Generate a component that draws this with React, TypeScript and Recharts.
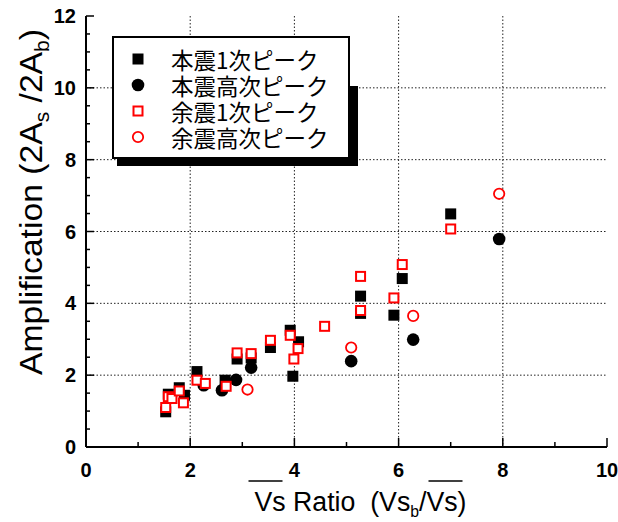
import { ScatterChart, Scatter, XAxis, YAxis, CartesianGrid, Legend } from 'recharts';

// 本震1次ピーク (black filled squares)
const mainFirstX = [1.53, 1.58, 1.79, 1.89, 2.13, 2.67, 2.9, 3.17, 3.54, 3.92, 4.08, 3.97, 5.27, 5.27, 5.91, 6.07, 7.0];
const mainFirstY = [0.98, 1.47, 1.65, 1.44, 2.1, 1.86, 2.45, 2.48, 2.77, 3.25, 2.93, 1.97, 4.2, 3.72, 3.67, 4.69, 6.49];

// 本震高次ピーク (black filled circles)
const mainHighX = [2.26, 2.61, 2.88, 3.17, 5.09, 6.28, 7.93];
const mainHighY = [1.72, 1.58, 1.87, 2.21, 2.39, 2.99, 5.79];

// 余震1次ピーク (red open squares)
const afterFirstX = [1.53, 1.58, 1.65, 1.79, 1.87, 2.13, 2.29, 2.69, 2.9, 3.17, 3.54, 3.92, 4.07, 3.99, 4.58, 5.27, 5.27, 5.91, 6.07, 7.0];
const afterFirstY = [1.1, 1.4, 1.35, 1.56, 1.23, 1.86, 1.77, 1.69, 2.62, 2.6, 2.97, 3.11, 2.74, 2.45, 3.36, 4.75, 3.8, 4.15, 5.08, 6.07];

// 余震高次ピーク (red open circles)
const afterHighX = [3.1, 5.09, 6.28, 7.93];
const afterHighY = [1.6, 2.77, 3.65, 7.05];

const xTicks = [0, 1, 2, 3, 4, 5, 6, 7, 8, 9, 10];
const xMajor = [0, 2, 4, 6, 8, 10];
const yTicks = [0, 0.5, 1, 1.5, 2, 2.5, 3, 3.5, 4, 4.5, 5, 5.5, 6, 6.5, 7, 7.5, 8, 8.5, 9, 9.5, 10, 10.5, 11, 11.5, 12];
const yMajor = [0, 2, 4, 6, 8, 10, 12];

const FONT = '"Liberation Sans", Arial, sans-serif';
const CJK = '"Noto Sans CJK JP", "Noto Sans CJK SC", sans-serif';
const RED = '#ff0000';

const zip = (xs: number[], ys: number[]) => xs.map((x, i) => ({ x, y: ys[i] }));

const FilledSquare = (p: any) => <rect x={p.cx - 5.5} y={p.cy - 5.5} width={11} height={11} fill="#000" />;
const FilledCircle = (p: any) => <circle cx={p.cx} cy={p.cy} r={6.3} fill="#000" />;
const OpenSquare = (p: any) => (
  <rect x={p.cx - 4.5} y={p.cy - 4.5} width={9} height={9} fill="#fff" stroke={RED} strokeWidth={2} />
);
const OpenCircle = (p: any) => <circle cx={p.cx} cy={p.cy} r={5.2} fill="#fff" stroke={RED} strokeWidth={1.8} />;

const series = [
  { name: '本震1次ピーク', data: zip(mainFirstX, mainFirstY), shape: FilledSquare },
  { name: '本震高次ピーク', data: zip(mainHighX, mainHighY), shape: FilledCircle },
  { name: '余震1次ピーク', data: zip(afterFirstX, afterFirstY), shape: OpenSquare },
  { name: '余震高次ピーク', data: zip(afterHighX, afterHighY), shape: OpenCircle },
];

function BottomTick(props: any) {
  const { x, y, payload } = props;
  const major = xMajor.includes(payload.value);
  return (
    <g>
      <line x1={x} y1={y} x2={x} y2={y - (major ? 9 : 5)} stroke="#000" strokeWidth={1.5} />
      {major && (
        <text x={x} y={y + 23} textAnchor="middle" dominantBaseline="central" fontFamily={FONT} fontWeight="bold" fontSize={20} fill="#000">
          {payload.value}
        </text>
      )}
    </g>
  );
}

function TopTick(props: any) {
  const { x, y, payload } = props;
  const major = xMajor.includes(payload.value);
  return <line x1={x} y1={y} x2={x} y2={y + (major ? 9 : 5)} stroke="#000" strokeWidth={1.5} />;
}

function LeftTick(props: any) {
  const { x, y, payload } = props;
  const major = yMajor.includes(payload.value);
  return (
    <g>
      <line x1={x} y1={y} x2={x + (major ? 8 : 4)} y2={y} stroke="#000" strokeWidth={1.5} />
      {major && (
        <text x={x - 10} y={y} textAnchor="end" dominantBaseline="central" fontFamily={FONT} fontWeight="bold" fontSize={20} fill="#000">
          {payload.value}
        </text>
      )}
    </g>
  );
}

function RightTick(props: any) {
  const { x, y, payload } = props;
  const major = yMajor.includes(payload.value);
  return <line x1={x} y1={y} x2={x - (major ? 8 : 4)} y2={y} stroke="#000" strokeWidth={1.5} />;
}

function XTitle(props: any) {
  const vb = props.viewBox;
  const cx = vb.x + vb.width / 2 + 14;
  const base = vb.y + 64;
  return (
    <g>
      <text x={cx} y={base} textAnchor="middle" fontFamily={FONT} fontSize={27} fill="#000" textLength={212} lengthAdjust="spacingAndGlyphs" style={{ whiteSpace: 'pre' }}>
        <tspan>{'Vs Ratio  (Vs'}</tspan>
        <tspan fontSize={16} dy={6}>b</tspan>
        <tspan dy={-6}>{'/Vs)'}</tspan>
      </text>
      <line x1={cx - 112} x2={cx - 78} y1={base - 30} y2={base - 30} stroke="#000" strokeWidth={1.5} />
      <line x1={cx + 68} x2={cx + 102} y1={base - 30} y2={base - 30} stroke="#000" strokeWidth={1.5} />
    </g>
  );
}

function YTitle(props: any) {
  const vb = props.viewBox;
  const bx = vb.x + 16;
  const cy = 202;
  return (
    <text x={bx} y={cy} textAnchor="middle" transform={`rotate(-90, ${bx}, ${cy})`} fontFamily={FONT} fontSize={32} fill="#000" textLength={346} lengthAdjust="spacingAndGlyphs" style={{ whiteSpace: 'pre' }}>
      <tspan>{'Amplification (2A'}</tspan>
      <tspan fontSize={20} dy={7}>s</tspan>
      <tspan dy={-7}>{' /2A'}</tspan>
      <tspan fontSize={20} dy={7}>b</tspan>
      <tspan dy={-7}>)</tspan>
    </text>
  );
}

function LegendMarker({ index }: { index: number }) {
  if (index === 0) return <rect x={2.5} y={2.5} width={11} height={11} fill="#000" />;
  if (index === 1) return <circle cx={8} cy={8} r={6.3} fill="#000" />;
  if (index === 2) return <rect x={3.5} y={3.5} width={9} height={9} fill="#fff" stroke={RED} strokeWidth={2} />;
  return <circle cx={8} cy={8} r={5.2} fill="#fff" stroke={RED} strokeWidth={1.8} />;
}

function LegendBox() {
  return (
    <div style={{ position: 'relative', width: 246, height: 131 }}>
      <div style={{ position: 'absolute', left: 238, top: 50, width: 8, height: 80, background: '#000' }} />
      <div style={{ position: 'absolute', left: 5, top: 123, width: 241, height: 7, background: '#000' }} />
      <div
        style={{
          position: 'absolute',
          left: 0,
          top: 0,
          width: 238,
          height: 123,
          boxSizing: 'border-box',
          border: '2px solid #000',
          background: '#fff',
        }}
      >
        {series.map((s, i) => (
          <div key={s.name} style={{ position: 'absolute', left: 0, top: 8 + i * 26, height: 26, width: 236 }}>
            <svg width={16} height={16} style={{ position: 'absolute', left: 16, top: 5 }}>
              <LegendMarker index={i} />
            </svg>
            <span
              style={{
                position: 'absolute',
                left: 57,
                top: 0,
                lineHeight: '26px',
                fontFamily: CJK,
                fontSize: 22.5,
                color: '#000',
                whiteSpace: 'nowrap',
              }}
            >
              {s.name}
            </span>
          </div>
        ))}
      </div>
    </div>
  );
}

export default function App() {
  return (
    <div style={{ position: 'absolute', left: 0, top: 0, width: 618, height: 522, background: '#fff' }}>
      <ScatterChart width={618} height={522} margin={{ top: 16, right: 11, left: 26, bottom: 0 }}>
        <CartesianGrid
          stroke="#222"
          strokeDasharray="1.5 2"
          horizontalValues={[2, 4, 6, 8, 10]}
          verticalValues={[2, 4, 6, 8]}
        />
        <XAxis
          dataKey="x"
          type="number"
          domain={[0, 10]}
          ticks={xTicks}
          allowDataOverflow
          height={75}
          tickSize={0}
          tickMargin={0}
          tickLine={false}
          axisLine={{ stroke: '#000', strokeWidth: 2 }}
          tick={BottomTick}
          interval={0}
          label={{ content: XTitle }}
        />
        <XAxis
          xAxisId="top"
          orientation="top"
          type="number"
          domain={[0, 10]}
          ticks={xTicks}
          allowDataOverflow
          height={0}
          tickSize={0}
          tickMargin={0}
          tickLine={false}
          axisLine={{ stroke: '#000', strokeWidth: 2 }}
          tick={TopTick}
          interval={0}
        />
        <YAxis
          dataKey="y"
          type="number"
          domain={[0, 12]}
          ticks={yTicks}
          allowDataOverflow
          width={60}
          tickSize={0}
          tickMargin={0}
          tickLine={false}
          axisLine={{ stroke: '#000', strokeWidth: 2 }}
          tick={LeftTick}
          interval={0}
          label={{ content: YTitle }}
        />
        <YAxis
          yAxisId="right"
          orientation="right"
          type="number"
          domain={[0, 12]}
          ticks={yTicks}
          allowDataOverflow
          width={0}
          tickSize={0}
          tickMargin={0}
          tickLine={false}
          axisLine={{ stroke: '#000', strokeWidth: 2 }}
          tick={RightTick}
          interval={0}
        />
        <Legend
          layout="vertical"
          align="center"
          verticalAlign="middle"
          width={246}
          height={131}
          wrapperStyle={{ left: 112, top: 36 }}
          content={() => <LegendBox />}
        />
        {series.map((s) => (
          <Scatter key={s.name} name={s.name} data={s.data} shape={s.shape} isAnimationActive={false} />
        ))}
      </ScatterChart>
    </div>
  );
}
